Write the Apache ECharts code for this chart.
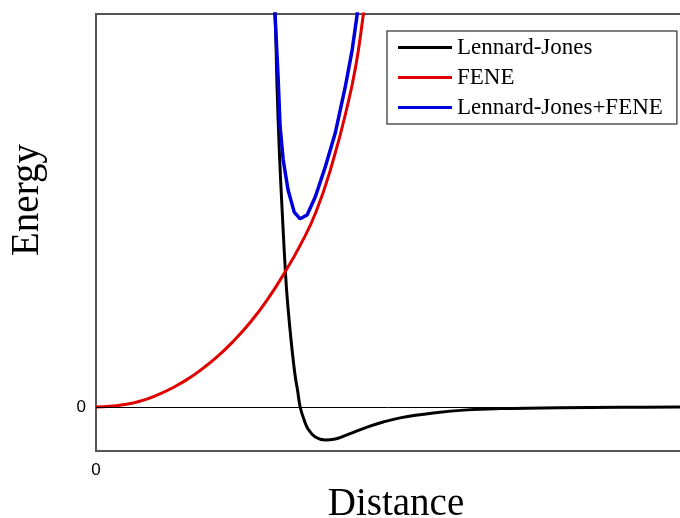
<!DOCTYPE html>
<html>
<head>
<meta charset="utf-8">
<script src="https://cdn.jsdelivr.net/npm/echarts@6/dist/echarts.min.js"></script>
<style>html,body{margin:0;padding:0;background:#fff}#c{width:680px;height:518px}</style>
</head>
<body>
<div id="c"></div>
<script>
// Distance (sigma units) and energy (epsilon units)
var ljX = [0.868,0.877,0.887,0.898,0.913,0.930,0.942,0.957,0.975,0.988,1.000,1.020,1.039,1.074,1.123,1.172,1.211,1.270,1.328,1.407,1.490,1.652,1.819,1.980,2.275,2.569,2.902];
var ljY = [12.9,12.28,10.0,8.0,6.0,4.0,3.0,2.0,1.0,0.5,0.00,-0.41,-0.69,-0.94,-1.03,-1.00,-0.92,-0.77,-0.63,-0.47,-0.34,-0.19,-0.09,-0.05,-0.02,-0.01,0.00];

var feneX = [0.000,0.069,0.132,0.210,0.299,0.387,0.461,0.510,0.590,0.672,0.755,0.838,0.926,1.000,1.078,1.157,1.235,1.275,1.304,1.324];
var feneY = [0.00,0.02,0.07,0.17,0.37,0.64,0.92,1.14,1.55,2.05,2.64,3.34,4.22,5.05,6.10,7.60,9.50,10.75,12.00,13.0];

var sumX = [0.870,0.877,0.892,0.902,0.917,0.941,0.971,1.000,1.034,1.074,1.123,1.172,1.221,1.255,1.279,1.290];
var sumY = [12.9,12.28,10.31,8.75,7.72,6.78,6.09,5.88,6.00,6.56,7.50,8.56,10.00,11.16,12.25,12.9];

var names = ['Lennard-Jones','FENE','Lennard-Jones+FENE'];
var xTicks = [0];
var yTicks = [0];

function pairs(xs, ys){ return xs.map(function(x,i){ return [x, ys[i]]; }); }

var chart = echarts.init(document.getElementById('c'), null, {renderer:'canvas'});
chart.setOption({
  animation:false,
  grid:{left:96, top:14, bottom:67, right:-8, outerBoundsMode:'none', containLabel:false,
    show:true, borderColor:'#555', borderWidth:2, backgroundColor:'transparent'},
  xAxis:{type:'value', min:0, max:2.9,
    axisLine:{show:false}, axisTick:{show:false}, splitLine:{show:false},
    axisLabel:{customValues:xTicks, color:'#000', fontSize:17, fontFamily:'Liberation Sans', margin:11},
    name:'Distance', nameLocation:'middle', nameGap:34,
    nameTextStyle:{fontFamily:'Liberation Serif', fontSize:39, color:'#000', padding:[0,0,0,8]}
  },
  yAxis:{type:'value', min:-1.375, max:12.28,
    axisLine:{show:false}, axisTick:{show:false}, splitLine:{show:false},
    axisLabel:{customValues:yTicks, color:'#000', fontSize:17, fontFamily:'Liberation Sans', margin:10}
  },
  graphic:[{type:'text', x:28, y:200, rotation:Math.PI/2,
    style:{text:'Energy', font:'39px "Liberation Serif"', fill:'#000', align:'center', verticalAlign:'middle'}}],
  legend:{left:387, top:31, orient:'vertical', padding:[5,14,5,11], icon:'rect', itemWidth:54, itemHeight:3, itemGap:7,
    borderColor:'#555', borderWidth:1.5, backgroundColor:'#fff',
    textStyle:{fontFamily:'Liberation Serif', fontSize:23, color:'#000'},
    data:names},
  series:[
    {name:names[0], type:'line', data:pairs(ljX,ljY), symbol:'none', smooth:0.4,
     lineStyle:{color:'#000', width:3}, itemStyle:{color:'#000'},
     markLine:{silent:true, symbol:'none', label:{show:false}, lineStyle:{color:'#000', width:1, type:'solid'}, data:[{yAxis:0}]}},
    {name:names[1], type:'line', data:pairs(feneX,feneY), symbol:'none', smooth:0.5,
     lineStyle:{color:'#e00000', width:3}, itemStyle:{color:'#e00000'}},
    {name:names[2], type:'line', data:pairs(sumX,sumY), symbol:'none', smooth:false,
     lineStyle:{color:'#0000dd', width:3.5}, itemStyle:{color:'#0000dd'}}
  ]
});
</script>
</body>
</html>
